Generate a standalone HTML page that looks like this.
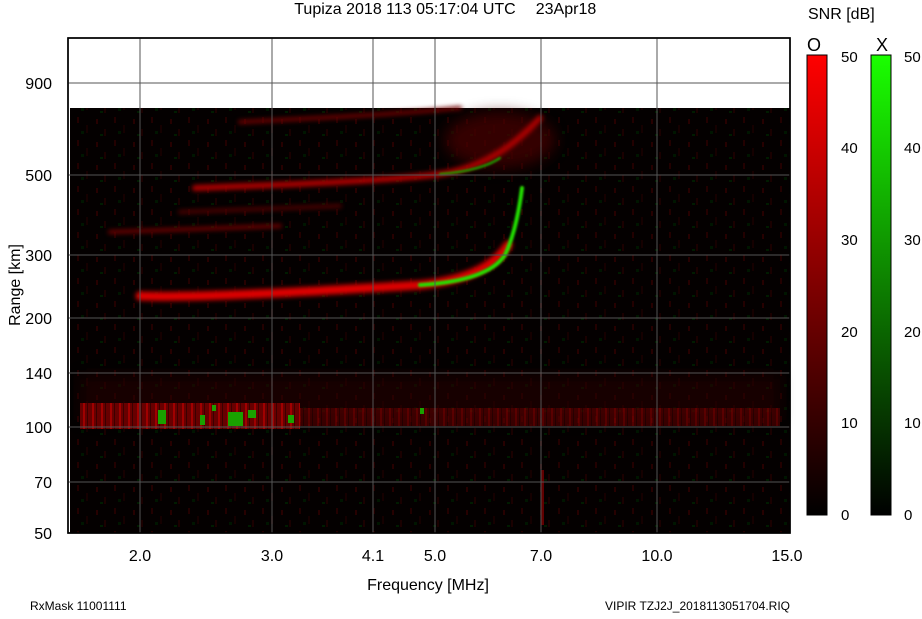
<!DOCTYPE html>
<html><head><meta charset="utf-8"><style>
html,body{margin:0;padding:0;background:#fff;}
body{width:922px;height:614px;overflow:hidden;font-family:"Liberation Sans",sans-serif;}
</style></head><body>
<svg width="922" height="614" viewBox="0 0 922 614" xmlns="http://www.w3.org/2000/svg" font-family="Liberation Sans, sans-serif">
<defs>
<filter id="b3"><feGaussianBlur stdDeviation="2.5"/></filter>
<filter id="b1"><feGaussianBlur stdDeviation="1"/></filter>
<filter id="b6"><feGaussianBlur stdDeviation="7"/></filter>
<linearGradient id="gr" x1="0" y1="0" x2="0" y2="1"><stop offset="0" stop-color="#ff0000"/><stop offset="1" stop-color="#000"/></linearGradient>
<linearGradient id="gg" x1="0" y1="0" x2="0" y2="1"><stop offset="0" stop-color="#1aff00"/><stop offset="1" stop-color="#000"/></linearGradient>
<pattern id="noise" width="37" height="23" patternUnits="userSpaceOnUse">
<rect width="37" height="23" fill="#050000"/>
<rect x="3" y="2" width="2" height="6" fill="#2a0000"/>
<rect x="12" y="10" width="2" height="8" fill="#1a0000"/>
<rect x="22" y="4" width="2" height="5" fill="#300000"/>
<rect x="30" y="14" width="2" height="7" fill="#200000"/>
<rect x="7" y="16" width="3" height="3" fill="#001a00"/>
<rect x="26" y="19" width="3" height="2" fill="#002200"/>
</pattern>
<pattern id="streak" width="9" height="30" patternUnits="userSpaceOnUse">
<rect width="9" height="30" fill="#700000"/>
<rect x="2" width="2" height="30" fill="#b00000"/>
<rect x="6" width="1" height="30" fill="#400000"/>
</pattern>
</defs>
<rect x="68" y="38" width="722" height="495" fill="#fff" stroke="#000" stroke-width="1.5"/>
<rect x="70" y="108" width="720" height="425" fill="#000"/>
<rect x="70" y="108" width="720" height="425" fill="url(#noise)" opacity="0.8"/>
<g filter="url(#b6)">
<ellipse cx="500" cy="140" rx="55" ry="28" fill="#4a0000" opacity="0.7"/>
<rect x="80" y="375" width="700" height="45" fill="#2a0000" opacity="0.5"/>
</g>
<!-- 100 km band -->
<rect x="80" y="403" width="220" height="26" fill="url(#streak)" opacity="0.9"/>
<rect x="300" y="408" width="480" height="18" fill="url(#streak)" opacity="0.45"/>
<g fill="#1aa000">
<rect x="158" y="410" width="8" height="14"/><rect x="200" y="415" width="5" height="10"/><rect x="228" y="412" width="15" height="14"/><rect x="212" y="405" width="4" height="6"/><rect x="248" y="410" width="8" height="8"/><rect x="288" y="415" width="6" height="8"/><rect x="420" y="408" width="4" height="6"/>
</g>
<g fill="none" stroke-linecap="round" filter="url(#b3)">
<path d="M140,296 C200,298 300,292 420,285 C470,280 495,265 508,245" stroke="#e00000" stroke-width="9"/>
<path d="M195,188 C280,185 400,180 440,174 C480,168 510,150 540,118" stroke="#b00000" stroke-width="6"/>
<path d="M240,122 C320,118 400,114 460,108" stroke="#700000" stroke-width="4"/>
<path d="M110,232 C170,230 220,228 280,226" stroke="#700000" stroke-width="4"/>
<path d="M180,212 C240,210 300,208 340,206" stroke="#500000" stroke-width="4"/>
</g>
<g fill="none" stroke-linecap="round" filter="url(#b1)">
<path d="M420,285 C470,282 495,270 505,255 C512,240 518,220 522,188" stroke="#22e000" stroke-width="4"/>
<path d="M440,174 C470,172 490,165 500,158" stroke="#18b000" stroke-width="2"/>
</g>
<rect x="541" y="470" width="3" height="55" fill="#600000"/>
<g stroke="#555" stroke-width="1">
<line x1="140" y1="38" x2="140" y2="533"/><line x1="272" y1="38" x2="272" y2="533"/><line x1="373" y1="38" x2="373" y2="533"/><line x1="435" y1="38" x2="435" y2="533"/><line x1="541" y1="38" x2="541" y2="533"/><line x1="657" y1="38" x2="657" y2="533"/>
<line x1="68" y1="83" x2="790" y2="83"/><line x1="68" y1="175" x2="790" y2="175"/><line x1="68" y1="255" x2="790" y2="255"/><line x1="68" y1="318" x2="790" y2="318"/><line x1="68" y1="373" x2="790" y2="373"/><line x1="68" y1="427" x2="790" y2="427"/><line x1="68" y1="482" x2="790" y2="482"/>
</g>
<rect x="68" y="38" width="722" height="495" fill="none" stroke="#000" stroke-width="1.5"/>
<g font-size="16" fill="#000" text-anchor="end">
<text x="52" y="89">900</text><text x="52" y="181">500</text><text x="52" y="261">300</text><text x="52" y="324">200</text><text x="52" y="379">140</text><text x="52" y="433">100</text><text x="52" y="488">70</text><text x="52" y="539">50</text>
</g>
<g font-size="16" fill="#000" text-anchor="middle">
<text x="140" y="561">2.0</text><text x="272" y="561">3.0</text><text x="373" y="561">4.1</text><text x="435" y="561">5.0</text><text x="541" y="561">7.0</text><text x="657" y="561">10.0</text><text x="787" y="561">15.0</text>
<text x="428" y="590">Frequency [MHz]</text>
<text x="405" y="14">Tupiza 2018 113 05:17:04 UTC</text>
<text x="566" y="14">23Apr18</text>
</g>
<text x="20" y="285" font-size="16" text-anchor="middle" transform="rotate(-90 20 285)">Range [km]</text>
<text x="30" y="610" font-size="12">RxMask 11001111</text>
<text x="790" y="610" font-size="12" text-anchor="end">VIPIR  TZJ2J_2018113051704.RIQ</text>
<text x="808" y="19" font-size="16">SNR [dB]</text>
<text x="807" y="51" font-size="18">O</text>
<text x="876" y="51" font-size="18">X</text>
<rect x="807" y="55" width="20" height="460" fill="url(#gr)" stroke="#000"/>
<rect x="871" y="55" width="20" height="460" fill="url(#gg)" stroke="#000"/>
<g font-size="15">
<text x="841" y="62">50</text><text x="841" y="153">40</text><text x="841" y="245">30</text><text x="841" y="337">20</text><text x="841" y="428">10</text><text x="841" y="520">0</text>
<text x="904" y="62">50</text><text x="904" y="153">40</text><text x="904" y="245">30</text><text x="904" y="337">20</text><text x="904" y="428">10</text><text x="904" y="520">0</text>
</g>
</svg>
</body></html>
